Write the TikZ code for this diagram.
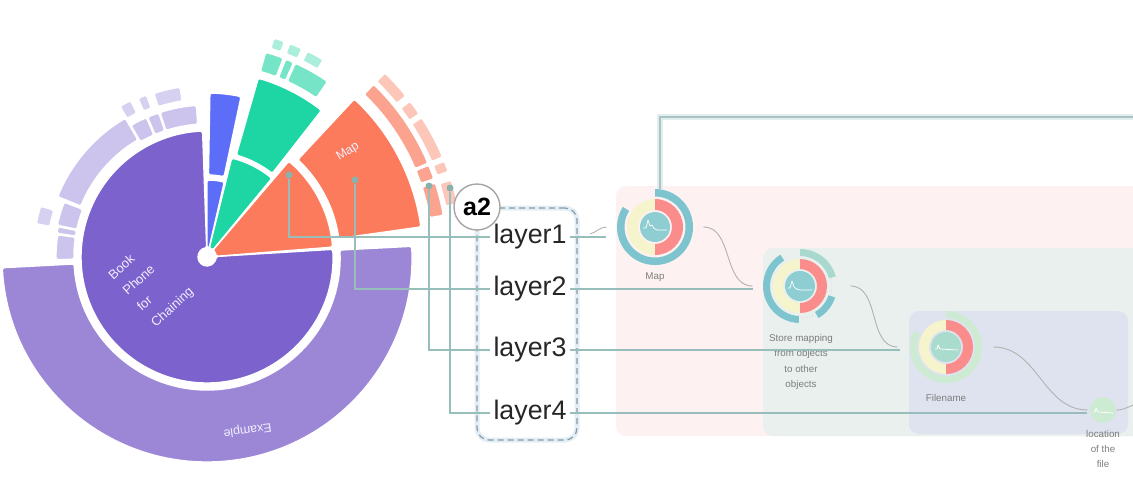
\documentclass[tikz,border=0pt]{standalone}
\usepackage{fontspec}
\setmainfont{Liberation Sans}
\usetikzlibrary{positioning,calc}
\definecolor{SunPurple}{RGB}{123,98,205}
\definecolor{SunExample}{RGB}{156,135,215}
\definecolor{SunLavender}{RGB}{204,196,236}
\definecolor{SunLavenderLight}{RGB}{215,209,241}
\definecolor{SunBlue}{RGB}{92,110,247}
\definecolor{SunGreen}{RGB}{30,214,164}
\definecolor{SunTeal}{RGB}{118,228,198}
\definecolor{SunTealLight}{RGB}{172,238,220}
\definecolor{SunOrange}{RGB}{251,123,92}
\definecolor{SunSalmon}{RGB}{251,163,143}
\definecolor{SunSalmonLight}{RGB}{252,198,185}
\definecolor{SunText}{RGB}{242,238,255}
\definecolor{LinkTeal}{RGB}{152,190,188}
\definecolor{DotTeal}{RGB}{138,178,172}
\definecolor{TopLine}{RGB}{170,196,198}
\definecolor{TopGlow}{RGB}{226,237,238}
\definecolor{BandPink}{RGB}{253,241,241}
\definecolor{BandGreen}{RGB}{233,240,237}
\definecolor{BandLav}{RGB}{223,227,239}
\definecolor{RingTeal}{RGB}{126,196,207}
\definecolor{RingMint}{RGB}{168,216,206}
\definecolor{RingYellow}{RGB}{246,244,204}
\definecolor{RingRed}{RGB}{250,140,140}
\definecolor{RingGreen}{RGB}{205,235,211}
\definecolor{CoreTeal}{RGB}{142,206,210}
\definecolor{CoreGreen}{RGB}{170,220,205}
\definecolor{LabelGray}{RGB}{125,125,125}
\definecolor{FrameGray}{RGB}{140,152,160}
\definecolor{LayerGlow}{RGB}{226,238,246}

% annular sector: start, end, inner radius, outer radius, style
\newcommand{\ringpiece}[5]{%
  \path[#5] (#1:#3) arc[start angle=#1, end angle=#2, radius=#3]
    -- (#2:#4) arc[start angle=#2, end angle=#1, radius=#4] -- cycle;}

\begin{document}
\begin{tikzpicture}[x=0.5pt, y=-0.5pt, font=\fontsize{13.4}{16}\selectfont]
\tikzset{
  sunpiece/.style={draw=white, line width=0.7pt, rounded corners=0.8pt},
  sunlabel/.style={text=SunText, inner sep=0pt, align=left},
  tapdot/.style={circle, fill=DotTeal, inner sep=0pt, minimum size=3.5pt},
  layerlbl/.style={text=black!85, inner sep=1.5pt},
  layerframe/.style={draw=FrameGray, dash pattern=on 3pt off 2pt, line width=0.6pt, rounded corners=6pt,
    minimum width=50pt, minimum height=116pt, preaction={draw=LayerGlow, line width=2.5pt, solid}},
  badge/.style={circle, draw=gray!70, line width=0.7pt, fill=white, minimum size=23pt, inner sep=0pt,
    font=\fontsize{12.5}{14}\selectfont\bfseries},
  ringnode/.style={circle, inner sep=0pt},
  nodelbl/.style={text=LabelGray, font=\fontsize{4.9}{7.6}\selectfont, align=center},
  linkline/.style={LinkTeal, line width=0.75pt},
  topline/.style={TopLine, line width=1pt, preaction={draw=TopGlow, line width=3pt}},
  flowlink/.style={black!30, line width=0.45pt},
  spark/.style={white, line width=0.35pt, line join=round}
}
\useasboundingbox (0,0) rectangle (1133,484);

% background bands
\fill[BandPink, rounded corners=5pt] (616,186) rectangle (1150,436);
\fill[BandGreen, rounded corners=5pt] (763,248) rectangle (1150,436);
\fill[BandLav, rounded corners=5pt] (909,311) rectangle (1128,434);

% sunburst
\begin{scope}[shift={(207,257)}, y=0.5pt]
  \ringpiece{92}{363.5}{9}{126}{sunpiece, fill=SunPurple}
  \ringpiece{4.5}{49.5}{9}{126}{sunpiece, fill=SunOrange}
  \ringpiece{50.5}{76}{9}{102}{sunpiece, fill=SunGreen}
  \ringpiece{77}{90}{9}{77}{sunpiece, fill=SunBlue}

  \ringpiece{183}{363}{133}{205}{sunpiece, fill=SunExample}
  \ringpiece{8}{47}{133}{216}{sunpiece, fill=SunOrange}
  \ringpiece{52}{74}{106}{186}{sunpiece, fill=SunGreen}
  \ringpiece{78}{89}{82}{164}{sunpiece, fill=SunBlue}
  \ringpiece{94}{108}{133}{152}{sunpiece, fill=SunLavender}
  \ringpiece{108.5}{113}{133}{152}{sunpiece, fill=SunLavender}
  \ringpiece{113.5}{120}{133}{152}{sunpiece, fill=SunLavender}
  \ringpiece{120.5}{158}{136}{161}{sunpiece, fill=SunLavender}
  \ringpiece{159}{168}{133}{153}{sunpiece, fill=SunLavender}
  \ringpiece{168.5}{171}{133}{152}{sunpiece, fill=SunLavender}
  \ringpiece{171.5}{181}{133}{151}{sunpiece, fill=SunLavender}

  \ringpiece{99}{108}{158}{172}{sunpiece, fill=SunLavenderLight}
  \ringpiece{110.5}{113.5}{159}{173}{sunpiece, fill=SunLavenderLight}
  \ringpiece{116}{120}{160}{174}{sunpiece, fill=SunLavenderLight}
  \ringpiece{163}{169}{160}{174}{sunpiece, fill=SunLavenderLight}

  \ringpiece{69}{74}{193}{213}{sunpiece, fill=SunTeal}
  \ringpiece{66}{68.3}{193}{213}{sunpiece, fill=SunTeal}
  \ringpiece{55.5}{65.5}{193}{213}{sunpiece, fill=SunTeal}
  \ringpiece{70.2}{73}{218}{229}{sunpiece, fill=SunTealLight}
  \ringpiece{65.5}{68.8}{218}{229}{sunpiece, fill=SunTealLight}
  \ringpiece{59.5}{64}{218}{229}{sunpiece, fill=SunTealLight}

  \ringpiece{23}{46}{226}{240}{sunpiece, fill=SunSalmon}
  \ringpiece{19}{22.5}{226}{240}{sunpiece, fill=SunSalmon}
  \ringpiece{10}{18}{226}{240}{sunpiece, fill=SunSalmon}
  \ringpiece{39}{46}{244}{256}{sunpiece, fill=SunSalmonLight}
  \ringpiece{34}{37.5}{244}{256}{sunpiece, fill=SunSalmonLight}
  \ringpiece{23}{33}{244}{256}{sunpiece, fill=SunSalmonLight}
  \ringpiece{19.5}{22}{244}{256}{sunpiece, fill=SunSalmonLight}
  \ringpiece{12}{17.5}{244}{256}{sunpiece, fill=SunSalmonLight}

  \fill[white] (0,0) circle[radius=9];
  \node[sunlabel, rotate=42, font=\fontsize{6.5}{10.6}\selectfont] (booklbl) at (-55.5,-27) {Book\\Phone\\for\\Chaining};
  \node[sunlabel, rotate=32, font=\fontsize{6.2}{8}\selectfont] (maplabel) at (141,105) {Map};
  \node[sunlabel, rotate=188, font=\fontsize{6.2}{8}\selectfont] (examplelbl) at (40.5,-173) {Example};
\end{scope}

% graph nodes
\node[ringnode, minimum size=38pt] (mapn) at (655,227) {};
\node[ringnode, minimum size=37pt] (storen) at (800,286) {};
\node[ringnode, minimum size=36pt] (filen) at (946,347) {};
\node[ringnode, minimum size=13pt, fill=RingGreen] (locn) at (1103,410) {};

\begin{scope}[shift={(mapn.center)}, y=0.5pt]
  \ringpiece{148}{450}{30.5}{38}{fill=RingTeal}
  \ringpiece{90}{270}{17}{28}{fill=RingYellow}
  \ringpiece{-90}{90}{17}{28}{fill=RingRed}
  \fill[CoreTeal] (0,0) circle[radius=15];
  \draw[spark] (-12,-1) -- (-9,-1) -- (-7,7) -- (-5,1) -- (-3,2) to[out=-60, in=180] (2,-3) -- (12,-3);
\end{scope}
\begin{scope}[shift={(storen.center)}, y=0.5pt]
  \ringpiece{122}{268}{30}{37}{fill=RingTeal}
  \ringpiece{15}{90}{30}{37}{fill=RingMint}
  \ringpiece{-60}{-18}{30}{37}{fill=RingTeal}
  \draw[gray!45, densely dotted, line width=0.3pt] (-16:32) arc[start angle=-16, end angle=13, radius=32];
  \draw[gray!45, densely dotted, line width=0.3pt] (-86:32) arc[start angle=-86, end angle=-63, radius=32];
  \ringpiece{90}{270}{17}{27}{fill=RingYellow}
  \ringpiece{-90}{90}{17}{27}{fill=RingRed}
  \fill[CoreTeal] (0,0) circle[radius=15];
  \draw[spark] (-12,-2) -- (-10,-2) -- (-8,5) -- (-6,-1) to[out=-40, in=180] (0,-4) -- (12,-4);
\end{scope}
\begin{scope}[shift={(filen.center)}, y=0.5pt]
  \ringpiece{154}{450}{29}{36}{fill=RingGreen}
  \ringpiece{90}{270}{17}{27}{fill=RingYellow}
  \ringpiece{-90}{90}{17}{27}{fill=RingRed}
  \fill[CoreGreen] (0,0) circle[radius=15];
  \draw[spark] (-11,-2) -- (-9,-2) -- (-8,2) -- (-6,-2) -- (12,-3);
\end{scope}
\begin{scope}[shift={(locn.center)}, y=0.5pt]
  \draw[spark] (-10,-2) -- (-8,-2) -- (-7,2) -- (-5,-2) -- (10,-3);
\end{scope}

\node[nodelbl] (maplbl) at (655,277) {Map};
\node[nodelbl] (storelbl) at (801,362) {Store mapping\\from objects\\to other\\objects};
\node[nodelbl] (filelbl) at (946,398) {Filename};
\node[nodelbl] (loclbl) at (1103,449) {location\\of the\\file};

% links between graph nodes
\coordinate (topend) at (1140,117);
\draw[topline] ([xshift=2.5pt]mapn.north) |- (topend);
\coordinate (mapin) at (590,234);
\coordinate (locout) at (1140,403);
\draw[flowlink] (mapin) to[out=15, in=180] ([xshift=-5pt]mapn.west);
\draw[flowlink] ([xshift=5pt]mapn.east) to[out=0, in=180] ([xshift=-5pt]storen.west);
\draw[flowlink] ([xshift=6.5pt]storen.east) to[out=0, in=180] ([xshift=-6pt]filen.west);
\draw[flowlink] ([xshift=5.5pt]filen.east) to[out=0, in=180] ([xshift=-1pt]locn.west);
\draw[flowlink] (locn.east) to[out=0, in=190] (locout);

% layer column
\node[layerframe] (layerbox) at (527,324) {};
\node[layerlbl] (layer1) at (530,237) {layer1};
\node[layerlbl] (layer2) at (530,289) {layer2};
\node[layerlbl] (layer3) at (530,350) {layer3};
\node[layerlbl] (layer4) at (530,413) {layer4};
\node[badge] (badge) at (477,207) {a2};

% taps on the sunburst
\node[tapdot] (dotorange) at (289,175) {};
\node[tapdot] (dotmap) at (355,180) {};
\node[tapdot] (dotthree) at (429,186) {};
\node[tapdot] (dotfour) at (450,188) {};
\draw[linkline] (dotorange) |- (layer1.west);
\draw[linkline] (dotmap) |- (layer2.west);
\draw[linkline] (dotthree) |- (layer3.west);
\draw[linkline] (dotfour) |- (layer4.west);
\draw[linkline, shorten >=5.5pt] (layer1.east) -- (layer1.east -| mapn.west);
\draw[linkline, shorten >=5pt] (layer2.east) -- (layer2.east -| storen.west);
\draw[linkline, shorten >=5pt] (layer3.east) -- (layer3.east -| filen.west);
\draw[linkline, shorten >=1.5pt] (layer4.east) -- (layer4.east -| locn.west);
\end{tikzpicture}
\end{document}
